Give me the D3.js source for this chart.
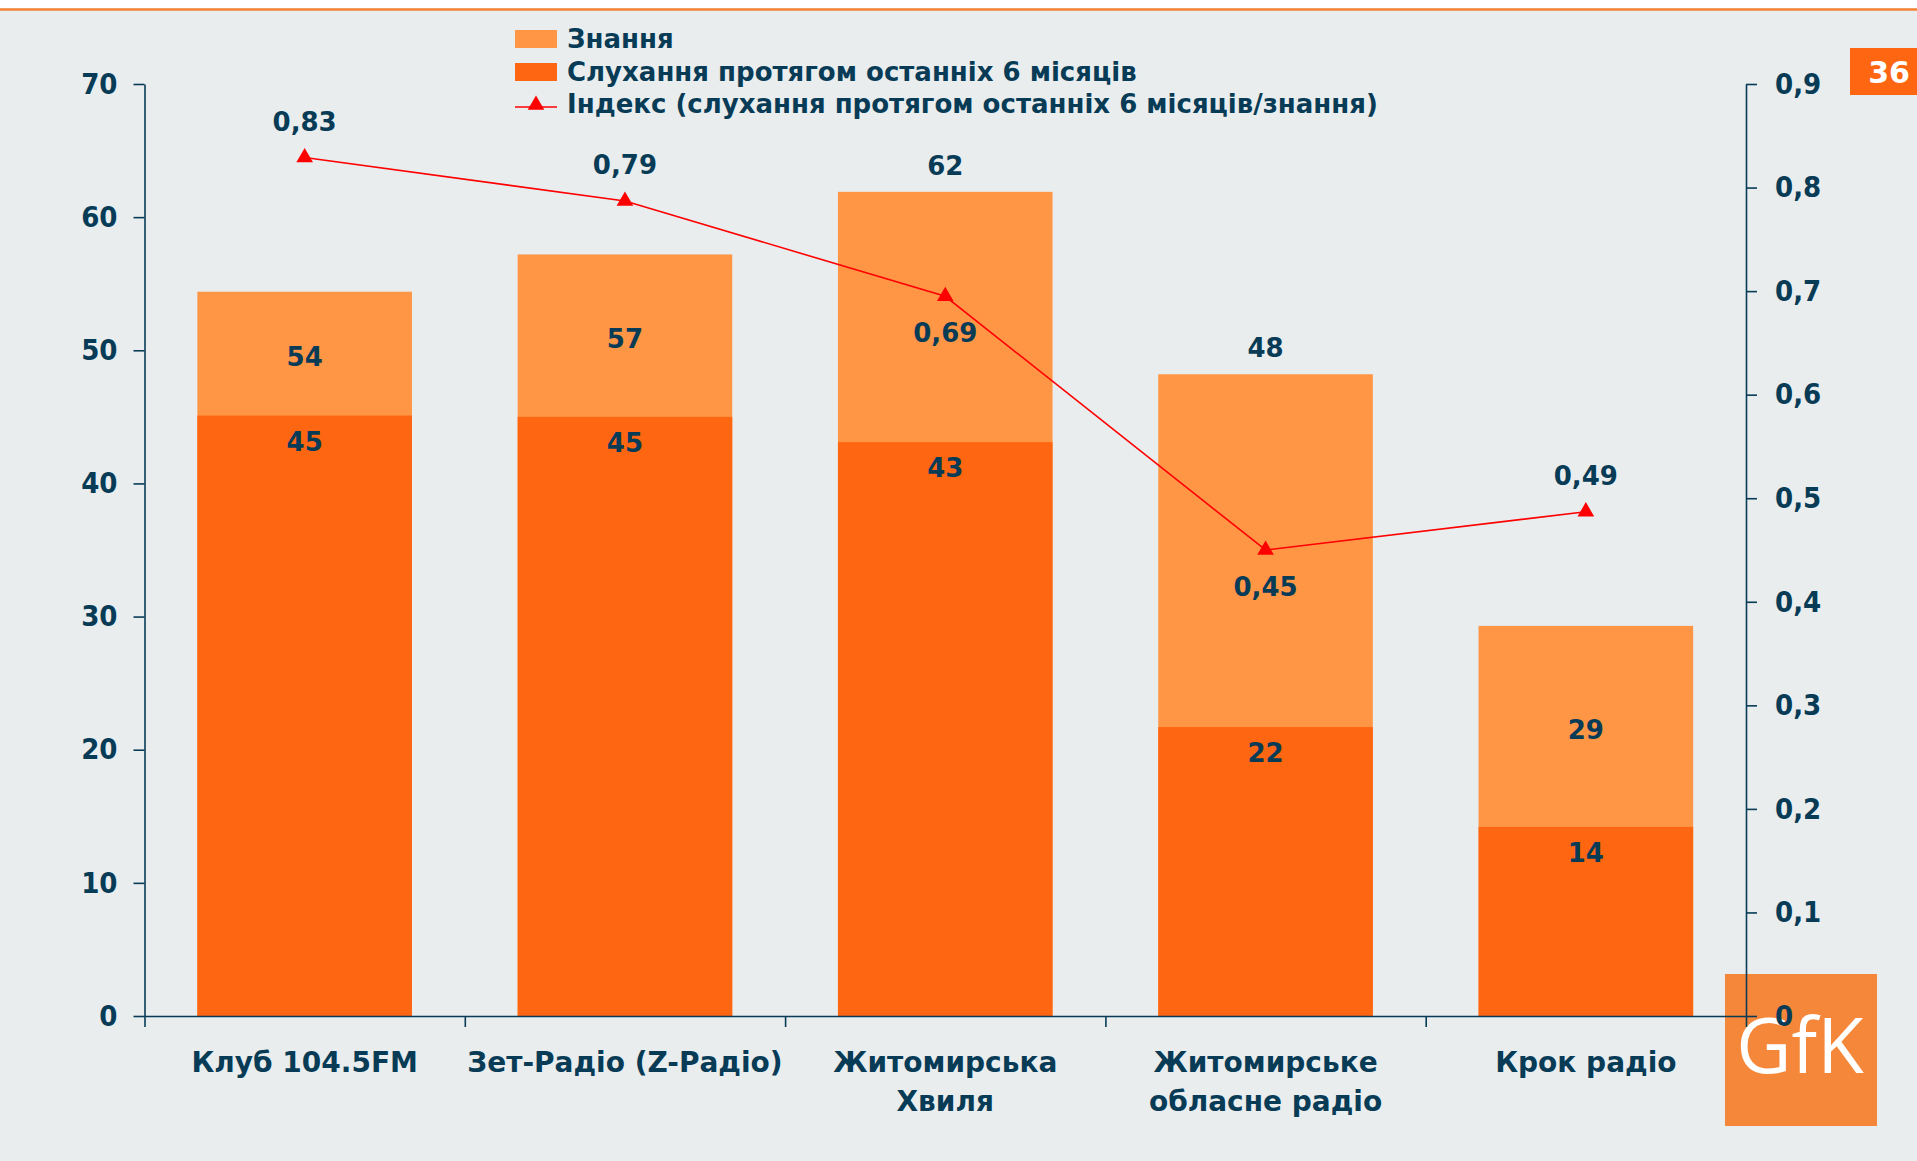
<!DOCTYPE html>
<html>
<head>
<meta charset="utf-8">
<script src="https://cdn.jsdelivr.net/npm/d3@7"></script>
<style>
  html, body { margin: 0; padding: 0; background: #e9edee; }
  svg { display: block; }
  text { font-family: "DejaVu Sans", sans-serif; font-weight: bold; fill: #073b56; }
  .cond { font-family: "DejaVu Sans Condensed", "DejaVu Sans", sans-serif; font-stretch: condensed; }
</style>
</head>
<body>
<svg></svg>
<script>
// Awareness vs. listening in the last 6 months, Zhytomyr radio stations

const width = 1917;
const height = 1161;

const categories = [
  ["Клуб 104.5FM"],
  ["Зет-Радіо (Z-Радіо)"],
  ["Житомирська", "Хвиля"],
  ["Житомирське", "обласне радіо"],
  ["Крок радіо"],
];
const knowValues = [54.4, 57.2, 61.9, 48.2, 29.3];
const listenValues = [45.1, 45.0, 43.1, 21.7, 14.2];
const indexValues = [0.829, 0.787, 0.695, 0.45, 0.487];
const leftTicks = [0, 10, 20, 30, 40, 50, 60, 70];
const rightTicks = [0, 0.1, 0.2, 0.3, 0.4, 0.5, 0.6, 0.7, 0.8, 0.9];
const legendLabels = [
  "Знання",
  "Слухання протягом останніх 6 місяців",
  "Індекс (слухання протягом останніх 6 місяців/знання)",
];

const colKnow = "#ff9646";
const colListen = "#ff6612";
const colLine = "#ff0000";
const colInk = "#073b56";

const plotLeft = 144.5;
const plotRight = 1746;
const plotTop = 84;
const plotBottom = 1016;

const svg = d3.select("svg").attr("width", width).attr("height", height);

// page decoration: white strip + orange rule on top
svg.append("rect").attr("x", 0).attr("y", 0).attr("width", width).attr("height", 8).attr("fill", "#ffffff");
svg.append("line").attr("x1", 0).attr("x2", width).attr("y1", 9.5).attr("y2", 9.5)
  .attr("stroke", "#f58232").attr("stroke-width", 2.5);

// page number
svg.append("rect").attr("x", 1850).attr("y", 48).attr("width", 67).attr("height", 47).attr("fill", "#ff6612");
svg.append("text").attr("x", 1889).attr("y", 72).attr("dy", "0.35em")
  .attr("text-anchor", "middle").style("fill", "#ffffff").style("font-size", "30px").text("36");

// GfK logo (drawn under the axis)
svg.append("rect").attr("x", 1725).attr("y", 974).attr("width", 152).attr("height", 152).attr("fill", "#f5873b");
svg.append("text").attr("x", 1800).attr("y", 1073).attr("text-anchor", "middle")
  .style("fill", "#ffffff").style("font-family", "'Open Sans', 'DejaVu Sans', sans-serif")
  .style("font-weight", "normal").style("font-size", "76px").text("GfK");

const keys = categories.map((c) => c.join(" "));
const rows = keys.map((k, i) => ({
  key: k,
  lines: categories[i],
  know: knowValues[i],
  listen: listenValues[i],
  index: indexValues[i],
}));

const xScale = d3.scaleBand().domain(keys).range([plotLeft, plotRight]).paddingInner(0.33).paddingOuter(0.165);
const xEdges = d3.scaleLinear().domain([0, keys.length]).range([plotLeft, plotRight]);
const yLeft = d3.scaleLinear().domain([0, 70]).range([plotBottom, plotTop]);
const yRight = d3.scaleLinear().domain([0, 0.9]).range([plotBottom, plotTop]);
const cx = (k) => xScale(k) + xScale.bandwidth() / 2;

// bars: knowledge behind, listening in front (not stacked)
svg.append("g").selectAll("rect").data(rows).enter().append("rect")
  .attr("x", (d) => xScale(d.key))
  .attr("width", xScale.bandwidth())
  .attr("y", (d) => yLeft(d.know))
  .attr("height", (d) => yLeft(0) - yLeft(d.know))
  .attr("fill", colKnow);

svg.append("g").selectAll("rect").data(rows).enter().append("rect")
  .attr("x", (d) => xScale(d.key))
  .attr("width", xScale.bandwidth())
  .attr("y", (d) => yLeft(d.listen))
  .attr("height", (d) => yLeft(0) - yLeft(d.listen))
  .attr("fill", colListen);

// axes
const styleAxis = (g, size) => {
  g.selectAll("path, line").attr("stroke", colInk).attr("stroke-width", 1.6);
  g.selectAll("text").attr("class", "cond").style("fill", colInk).style("font-size", size)
    .attr("font-family", null).attr("font-size", null);
};

const leftAxis = svg.append("g")
  .attr("transform", `translate(${plotLeft},0)`)
  .call(d3.axisLeft(yLeft).tickValues(leftTicks).tickSize(11).tickSizeOuter(0).tickPadding(16).tickFormat(d3.format("d")));
styleAxis(leftAxis, "29px");

const comma = d3.formatLocale({ decimal: ",", thousands: " ", grouping: [3], currency: ["", ""] });
const rightAxis = svg.append("g")
  .attr("transform", `translate(${plotRight},0)`)
  .call(d3.axisRight(yRight).tickValues(rightTicks).tickSize(11).tickSizeOuter(0).tickPadding(18).tickFormat(comma.format(".1~f")));
styleAxis(rightAxis, "29px");

const bottomAxis = svg.append("g")
  .attr("transform", `translate(0,${plotBottom})`)
  .call(d3.axisBottom(xEdges).ticks(keys.length).tickSize(11).tickSizeOuter(0).tickFormat(""));
styleAxis(bottomAxis, "29px");

// category labels
const catLabels = svg.append("g").selectAll("text").data(rows).enter().append("text")
  .attr("x", (d) => cx(d.key))
  .attr("y", 1072)
  .attr("text-anchor", "middle")
  .style("font-size", "28px");
catLabels.selectAll("tspan").data((d) => d.lines).enter().append("tspan")
  .attr("x", function () { return d3.select(this.parentNode).attr("x"); })
  .attr("dy", (d, i) => (i === 0 ? 0 : 39))
  .text((d) => d);

// value labels
const fmtInt = d3.format(".0f");
const knowAbove = new Set(["Житомирська Хвиля", "Житомирське обласне радіо"]);

svg.append("g").selectAll("text").data(rows).enter().append("text")
  .attr("x", (d) => cx(d.key))
  .attr("y", (d) => (knowAbove.has(d.key) ? yLeft(d.know) - 26 : (yLeft(d.know) + yLeft(d.listen)) / 2 + 3))
  .attr("dy", "0.35em")
  .attr("text-anchor", "middle")
  .style("font-size", "26px")
  .text((d) => fmtInt(d.know));

svg.append("g").selectAll("text").data(rows).enter().append("text")
  .attr("x", (d) => cx(d.key))
  .attr("y", (d) => yLeft(d.listen) + 26)
  .attr("dy", "0.35em")
  .attr("text-anchor", "middle")
  .style("font-size", "26px")
  .text((d) => fmtInt(d.listen));

// index line
const line = d3.line().x((d) => cx(d.key)).y((d) => yRight(d.index));
svg.append("path").datum(rows).attr("d", line)
  .attr("fill", "none").attr("stroke", colLine).attr("stroke-width", 1.6);

const tri = d3.symbol().type(d3.symbolTriangle).size(120);
svg.append("g").selectAll("path").data(rows).enter().append("path")
  .attr("d", tri)
  .attr("transform", (d) => `translate(${cx(d.key)},${yRight(d.index)})`)
  .attr("fill", colLine);

const idxBelow = new Set(["Житомирська Хвиля", "Житомирське обласне радіо"]);
const fmtIdx = comma.format(".2f");
svg.append("g").selectAll("text").data(rows).enter().append("text")
  .attr("x", (d) => cx(d.key))
  .attr("y", (d) => yRight(d.index) + (idxBelow.has(d.key) ? 37 : -36))
  .attr("dy", "0.35em")
  .attr("text-anchor", "middle")
  .style("font-size", "26px")
  .text((d) => fmtIdx(d.index));

// legend
const legend = svg.append("g").attr("transform", "translate(515,0)");
const legendY = [39, 72, 104];
[colKnow, colListen].forEach((c, i) => {
  legend.append("rect").attr("x", 0).attr("y", legendY[i] - 9).attr("width", 42).attr("height", 18).attr("fill", c);
});
legend.append("line").attr("x1", 0).attr("x2", 42).attr("y1", legendY[2] + 3).attr("y2", legendY[2] + 3)
  .attr("stroke", colLine).attr("stroke-width", 1.6);
legend.append("path").attr("d", tri).attr("transform", `translate(21,${legendY[2] + 1})`).attr("fill", colLine);
legend.selectAll("text.lg").data(legendLabels).enter().append("text")
  .attr("class", "lg")
  .attr("x", 52)
  .attr("y", (d, i) => legendY[i] + 9)
  .style("font-size", "26px")
  .text((d) => d);
</script>
</body>
</html>
